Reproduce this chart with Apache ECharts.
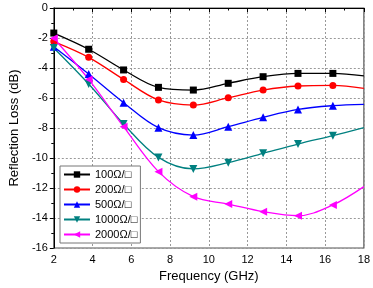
<!DOCTYPE html>
<html>
<head>
<meta charset="utf-8">
<script src="https://cdn.jsdelivr.net/npm/echarts@6/dist/echarts.min.js"></script>
<style>
    html, body { margin: 0; padding: 0; background: #fff; }
    #chart { width: 373px; height: 288px; }
</style>
</head>
<body>
<div id="chart"></div>
<script>
    // frequencies (GHz) where the curves were sampled
    var freq = [2, 3.8, 5.6, 7.4, 9.2, 11, 12.8, 14.6, 16.4, 18];
    // reflection loss (dB) for each sheet resistance
    var rl100 = [-1.67, -2.75, -4.13, -5.29, -5.47, -5.02, -4.58, -4.36, -4.36, -4.53];
    var rl200 = [-2.24, -3.29, -4.76, -6.13, -6.47, -5.98, -5.47, -5.2, -5.16, -5.36];
    var rl500 = [-2.58, -4.4, -6.31, -7.98, -8.47, -7.91, -7.29, -6.76, -6.51, -6.42];
    var rl1000 = [-2.67, -5.07, -7.73, -9.96, -10.73, -10.31, -9.69, -9.07, -8.51, -7.98];
    var rl2000 = [-2.02, -4.76, -7.91, -10.91, -12.58, -13.07, -13.58, -13.85, -13.13, -11.91];
    var names = ['100Ω/□', '200Ω/□', '500Ω/□', '1000Ω/□', '2000Ω/□'];
    var xTicks = [2, 18, 2];   // min, max, interval
    var yTicks = [-16, 0, 2];

    function pairs(ys) {
        return freq.map(function (f, i) {
            var p = { value: [f, ys[i]] };
            if (i === freq.length - 1) p.symbol = 'none';   // no marker on the right edge
            return p;
        });
    }

    var myChart = echarts.init(document.getElementById('chart'));
    var font = 'Liberation Sans, Arial, sans-serif';

    function line(name, ys, color, symbol, rotate, size) {
        return {
            name: name,
            type: 'line',
            smooth: 0.35,
            data: pairs(ys),
            symbol: symbol,
            symbolSize: size,
            symbolRotate: rotate,
            itemStyle: { color: color },
            lineStyle: { color: color, width: 1.3 },
            emphasis: { disabled: true }
        };
    }

    myChart.setOption({
        animation: false,
        grid: {
            left: 46, right: 7, top: 8, bottom: 40,
            show: true, borderColor: '#555', borderWidth: 1.2
        },
        legend: {
            orient: 'vertical',
            left: 60, top: 166,
            padding: [3, 3, 3, 3],
            itemGap: 4,
            itemWidth: 26,
            itemHeight: 8,
            borderColor: '#777',
            borderWidth: 1,
            backgroundColor: '#fff',
            textStyle: { fontFamily: font, fontSize: 11, color: '#000', width: 44, align: 'right' },
            data: names
        },
        xAxis: {
            type: 'value',
            min: xTicks[0], max: xTicks[1], interval: xTicks[2],
            name: 'Frequency (GHz)',
            nameLocation: 'middle',
            nameGap: 22,
            nameTextStyle: { fontFamily: font, fontSize: 13, color: '#000' },
            axisLine: { lineStyle: { color: '#000', width: 1 } },
            axisTick: { show: true, inside: false, length: 4, lineStyle: { color: '#000' } },
            minorTick: { show: true, splitNumber: 2, length: 2.5, lineStyle: { color: '#000' } },
            axisLabel: { fontFamily: font, fontSize: 11, color: '#000', margin: 6 },
            splitLine: { show: true, lineStyle: { color: '#999', type: [2, 2], width: 1 } }
        },
        yAxis: {
            type: 'value',
            min: yTicks[0], max: yTicks[1], interval: yTicks[2],
            name: 'Reflection Loss (dB)',
            nameLocation: 'middle',
            nameGap: 30,
            nameTextStyle: { fontFamily: font, fontSize: 13, color: '#000' },
            axisLine: { show: true, lineStyle: { color: '#000', width: 1 } },
            axisTick: { show: true, inside: false, length: 4, lineStyle: { color: '#000' } },
            minorTick: { show: true, splitNumber: 2, length: 2.5, lineStyle: { color: '#000' } },
            axisLabel: { fontFamily: font, fontSize: 11, color: '#000', margin: 6 },
            splitLine: { show: true, lineStyle: { color: '#999', type: [2, 2], width: 1 } }
        },
        series: [
            line(names[0], rl100, '#000000', 'rect', 0, 7),
            line(names[1], rl200, '#ff0000', 'circle', 0, 7),
            line(names[2], rl500, '#0000ff', 'triangle', 0, 8),
            line(names[3], rl1000, '#008080', 'triangle', 180, 8),
            line(names[4], rl2000, '#ff00ff', 'triangle', 90, 8)
        ]
    });
</script>
</body>
</html>
